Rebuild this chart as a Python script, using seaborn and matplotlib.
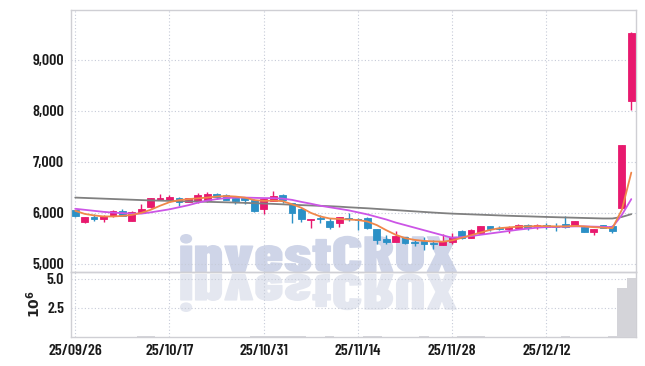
import numpy as np
import pandas as pd
import seaborn as sns
import matplotlib
matplotlib.use("Agg")
import matplotlib.pyplot as plt
from matplotlib.textpath import TextPath
from matplotlib.patches import PathPatch
from matplotlib.font_manager import FontProperties, fontManager
from matplotlib.transforms import Affine2D

# Daily candles, 2025-09-26 .. 2025-12-26 (KRX trading days)
holidays = ["2025-10-03", "2025-10-06", "2025-10-07", "2025-10-08",
            "2025-10-09", "2025-12-25"]
dates = pd.bdate_range("2025-09-26", "2025-12-26", freq="C", holidays=holidays)

opens = [6050, 5820, 5910, 5880, 5930, 6030, 5850, 6000, 6110, 6260,
         6260, 6300, 6220, 6240, 6260, 6380, 6350, 6290, 6300, 6260,
         6080, 6240, 6360, 6190, 6080, 5860, 5890, 5840, 5810, 5890,
         5880, 5890, 5680, 5490, 5430, 5520, 5430, 5440, 5400, 5370,
         5430, 5650, 5510, 5600, 5745, 5700, 5680, 5710, 5760, 5720,
         5760, 5740, 5780, 5750, 5730, 5620, 5760, 5750, 6100, 8200]
highs = [6060, 5920, 5980, 5950, 6050, 6080, 6030, 6180, 6300, 6380,
         6360, 6310, 6300, 6390, 6400, 6390, 6370, 6300, 6310, 6270,
         6280, 6420, 6370, 6200, 6090, 5885, 5960, 5890, 5920, 5990,
         5890, 5920, 5690, 5560, 5640, 5530, 5470, 5530, 5460, 5580,
         5600, 5660, 5680, 5750, 5750, 5750, 5740, 5790, 5780, 5790,
         5800, 5810, 5930, 5850, 5740, 5690, 5770, 5760, 7340, 9540]
lows = [5920, 5800, 5840, 5830, 5920, 5930, 5840, 5990, 6100, 6250,
        6230, 6140, 6210, 6190, 6210, 6270, 6250, 6180, 6180, 6020,
        5970, 6230, 6190, 5810, 5830, 5700, 5800, 5690, 5720, 5840,
        5670, 5690, 5380, 5380, 5420, 5390, 5350, 5275, 5290, 5360,
        5380, 5480, 5500, 5590, 5640, 5660, 5600, 5680, 5660, 5690,
        5680, 5640, 5700, 5740, 5620, 5570, 5700, 5600, 6080, 8020]
closes = [5930, 5910, 5880, 5940, 6040, 5940, 6020, 6080, 6290, 6300,
          6320, 6220, 6290, 6350, 6370, 6320, 6260, 6240, 6250, 6030,
          6270, 6340, 6260, 6000, 5880, 5880, 5870, 5720, 5910, 5870,
          5860, 5700, 5470, 5430, 5550, 5400, 5410, 5380, 5380, 5450,
          5520, 5510, 5670, 5740, 5690, 5690, 5730, 5760, 5700, 5760,
          5720, 5720, 5720, 5845, 5620, 5680, 5710, 5640, 7330, 9530]
volumes = [40000, 30000, 25000, 30000, 35000, 30000, 40000, 45000, 60000, 40000,
           35000, 30000, 30000, 40000, 35000, 30000, 30000, 25000, 25000, 50000,
           60000, 110000, 50000, 100000, 60000, 40000, 30000, 45000, 40000, 30000,
           35000, 45000, 60000, 40000, 40000, 35000, 30000, 45000, 30000, 40000,
           40000, 45000, 50000, 45000, 30000, 25000, 30000, 30000, 30000, 25000,
           25000, 30000, 50000, 35000, 40000, 30000, 30000, 45000, 4220000, 5050000]

# moving average lines
ma_short = [6040, 5980, 5950, 5930, 5930, 5940, 5960, 6000, 6060, 6140,
            6210, 6250, 6270, 6285, 6300, 6320, 6330, 6320, 6300, 6250,
            6235, 6240, 6230, 6170, 6100, 6000, 5930, 5890, 5880, 5870,
            5860, 5830, 5760, 5660, 5570, 5505, 5470, 5450, 5440, 5435,
            5460, 5510, 5560, 5615, 5665, 5700, 5715, 5730, 5735, 5740,
            5740, 5735, 5735, 5745, 5735, 5720, 5710, 5700, 6060, 6790]
ma_mid = [6080, 6060, 6040, 6020, 6005, 5995, 5985, 5985, 6010, 6040,
          6070, 6110, 6150, 6200, 6240, 6270, 6290, 6300, 6300, 6295,
          6290, 6290, 6280, 6255, 6215, 6180, 6140, 6110, 6080, 6050,
          6010, 5970, 5920, 5870, 5810, 5760, 5710, 5660, 5610, 5560,
          5510, 5525, 5545, 5570, 5595, 5620, 5645, 5670, 5690, 5710,
          5720, 5725, 5730, 5735, 5735, 5730, 5725, 5720, 5960, 6270]
ma_long = [6300, 6293, 6286, 6279, 6272, 6265, 6258, 6251, 6244, 6240,
           6235, 6230, 6226, 6222, 6217, 6212, 6207, 6202, 6196, 6190,
           6183, 6176, 6168, 6160, 6152, 6145, 6138, 6131, 6122, 6110,
           6100, 6090, 6078, 6066, 6054, 6042, 6030, 6018, 6006, 5995,
           5985, 5978, 5971, 5964, 5957, 5950, 5943, 5937, 5932, 5926,
           5920, 5915, 5910, 5905, 5900, 5895, 5890, 5890, 5920, 5975]

UP = "#e8196e"
DOWN = "#2b90c6"
GRID = "#c6cbd8"
SPINE = "#cfcfd4"

df = pd.DataFrame({"date": dates, "open": opens, "high": highs, "low": lows,
                   "close": closes, "volume": volumes, "ma_short": ma_short,
                   "ma_mid": ma_mid, "ma_long": ma_long})
df["idx"] = np.arange(len(df))

sns.set_style("whitegrid")
names = {f.name for f in fontManager.ttflist}
font = "DejaVu Sans"
for cand in ["Barlow Condensed", "Roboto Condensed", "Pathway Gothic One",
             "Liberation Sans Narrow", "Oswald"]:
    if cand in names:
        font = cand
        break
plt.rcParams["font.family"] = [font, "DejaVu Sans"]
plt.rcParams["font.weight"] = "semibold"

W, H = 645, 366
fig = plt.figure(figsize=(W / 100, H / 100), dpi=100)
x0, x1 = 71, 636
ax = fig.add_axes([x0 / W, 1 - 272 / H, (x1 - x0) / W, (272 - 10) / H])
axv = fig.add_axes([x0 / W, 1 - 337 / H, (x1 - x0) / W, (337 - 272) / H], sharex=ax)

# watermark with its reflection, behind everything
fp = FontProperties(family=[font], weight="black")
tp = TextPath((0, 0), "investCRUX", size=60, prop=fp)
ext = tp.get_extents()
sx, sy = 277 / ext.width, 38 / ext.y1
tr = Affine2D().translate(-ext.x0, 0).scale(sx, sy).translate(180, H - 272)
fig.add_artist(PathPatch(tp, transform=tr, facecolor="#cfd5e8", edgecolor="none", zorder=-1))
tr2 = Affine2D().translate(-ext.x0, 0).scale(sx, -sy).translate(180, H - 274)
fig.add_artist(PathPatch(tp, transform=tr2, facecolor="#e4e7f0", edgecolor="none", zorder=-1))

for a in (ax, axv):
    a.set_facecolor("none")
    a.grid(True, linestyle=(0, (1, 2)), color=GRID, linewidth=0.8)
    for s in a.spines.values():
        s.set_color(SPINE)
        s.set_linewidth(1)
    a.tick_params(length=0, labelsize=11.5, colors="#1a1a1a", pad=5)

# candles
up = df["close"] >= df["open"]
colors = np.where(up, UP, DOWN)
ax.vlines(df["idx"], df["low"], df["high"], color=colors, linewidth=1, zorder=3)
body_lo = df[["open", "close"]].min(axis=1)
body_h = (df["close"] - df["open"]).abs()
ax.bar(df["idx"], body_h, bottom=body_lo, width=0.72, color=colors,
       edgecolor=colors, linewidth=0.6, zorder=4)

sns.lineplot(data=df, x="idx", y="ma_long", ax=ax, color="#808080", linewidth=1.3, zorder=5)
sns.lineplot(data=df, x="idx", y="ma_mid", ax=ax, color="#cc55e6", linewidth=1.3, zorder=5)
sns.lineplot(data=df, x="idx", y="ma_short", ax=ax, color="#f0874a", linewidth=1.3, zorder=6)

ax.set_ylim(4840, 9980)
ax.set_yticks([5000, 6000, 7000, 8000, 9000])
ax.set_yticklabels([f"{v:,}" for v in [5000, 6000, 7000, 8000, 9000]])
ax.set_xlabel("")
ax.set_ylabel("")
ax.tick_params(axis="x", labelbottom=False)

# volume
axv.bar(df["idx"], df["volume"] / 1e6, width=1.0, color="#d4d4d9",
        edgecolor="#b8b8c0", linewidth=0.0, zorder=3)
axv.set_ylim(0, 5.6)
axv.set_yticks([2.5, 5.0])
axv.set_yticklabels(["2.5", "5.0"])
axv.set_ylabel(r"$10^6$", fontsize=10, labelpad=3, color="#222222")

ticks = list(range(0, len(df), 10))
axv.set_xticks(ticks)
axv.set_xticklabels([df["date"][i].strftime("%y/%m/%d") for i in ticks])
axv.set_xlim(-0.45, len(df) - 0.5)
axv.set_xlabel("")

fig.savefig("out.png", dpi=100)
